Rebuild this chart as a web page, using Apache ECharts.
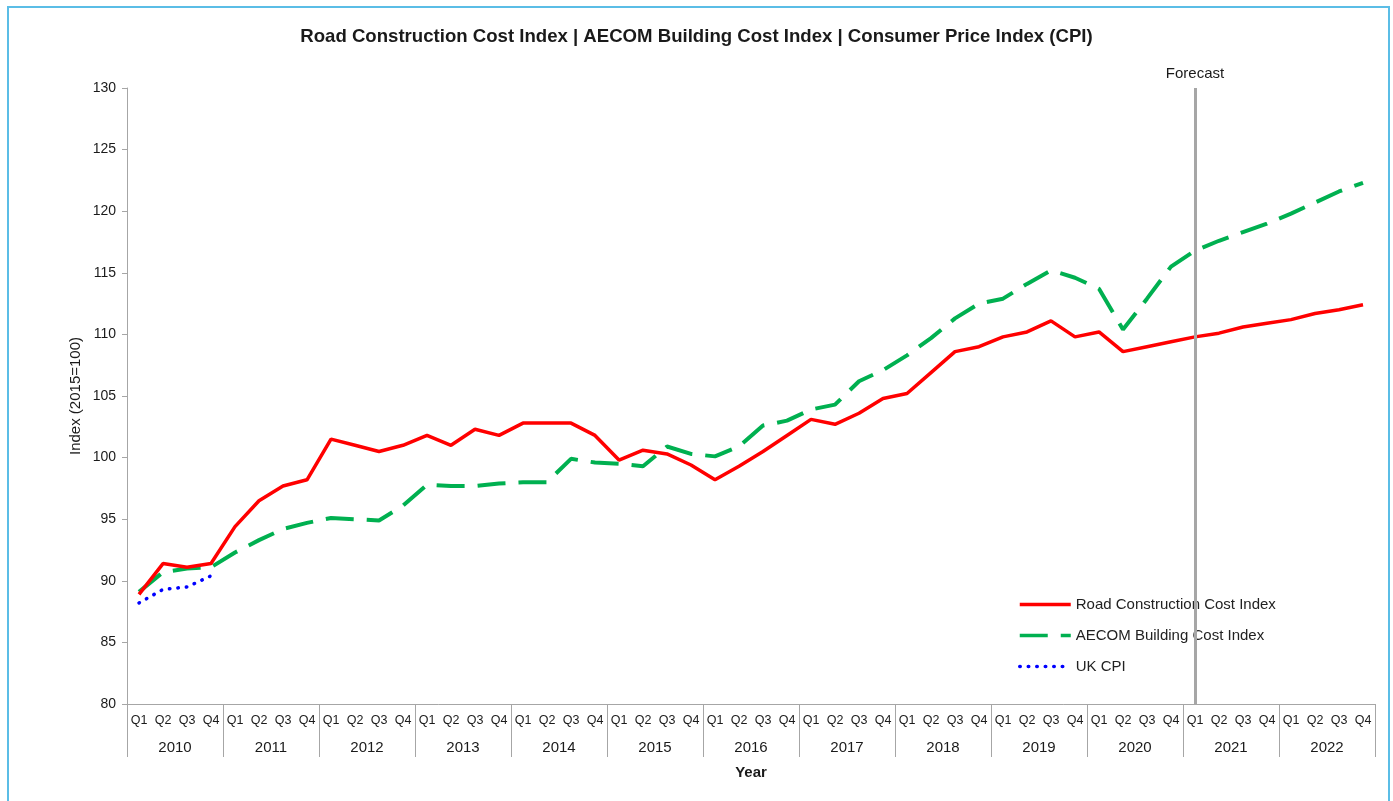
<!DOCTYPE html>
<html>
<head>
<meta charset="utf-8">
<title>Cost indices</title>
<script src="https://cdn.jsdelivr.net/npm/echarts@6/dist/echarts.min.js"></script>
<style>
  html, body { margin: 0; padding: 0; background: #fff; }
  #chart { width: 1393px; height: 801px; }
</style>
</head>
<body>
<div id="chart"></div>
<script>
// data
const years = ['2010','2011','2012','2013','2014','2015','2016','2017','2018','2019','2020','2021','2022'];
const quarters = ['Q1','Q2','Q3','Q4'];

const roadIndex = [
  88.9, 91.4, 91.1, 91.4,
  94.4, 96.5, 97.7, 98.2,
  101.5, 101.0, 100.5, 101.0,
  101.8, 101.0, 102.3, 101.8,
  102.8, 102.8, 102.8, 101.8,
  99.8, 100.6, 100.3, 99.4,
  98.2, 99.3, 100.5, 101.8,
  103.1, 102.7, 103.6, 104.8,
  105.2, 106.9, 108.6, 109.0,
  109.8, 110.2, 111.1, 109.8,
  110.2, 108.6, 109.0, 109.4,
  109.8, 110.1, 110.6, 110.9,
  111.2, 111.7, 112.0, 112.4
];

const aecomIndex = [
  89.1, 90.7, 91.0, 91.1,
  92.3, 93.3, 94.2, 94.7,
  95.1, 95.0, 94.9, 96.1,
  97.8, 97.7, 97.7, 97.9,
  98.0, 98.0, 99.9, 99.6,
  99.5, 99.3, 100.9, 100.3,
  100.1, 100.9, 102.6, 103.0,
  103.9, 104.3, 106.2, 107.1,
  108.3, 109.7, 111.3, 112.5,
  112.9, 114.1, 115.2, 114.6,
  113.7, 110.4, 112.9, 115.5,
  116.8, 117.6, 118.3, 119.0,
  119.8, 120.7, 121.6, 122.3
];

const ukCpi = [88.2, 89.3, 89.5, 90.4];

const forecastStart = 'Q1 2021';

const yTicks = {min: 80, max: 130, step: 5};

const font = 'Liberation Sans, Arial, sans-serif';
const axisGrey = '#a6a6a6';
const textDark = '#1a1a1a';

const categories = [];
years.forEach(y => quarters.forEach(q => categories.push(q + ' ' + y)));

const chart = echarts.init(document.getElementById('chart'));

chart.setOption({
  animation: false,
  textStyle: {fontFamily: font},
  title: {
    text: 'Road Construction Cost Index | AECOM Building Cost Index | Consumer Price Index (CPI)',
    left: 'center',
    top: 22,
    textStyle: {fontFamily: font, fontSize: 18.6, fontWeight: 'bold', color: textDark}
  },
  graphic: [{
    type: 'rect',
    shape: {x: 8, y: 7, width: 1381, height: 800},
    style: {fill: 'none', stroke: '#5bbde6', lineWidth: 2},
    silent: true
  }],
  legend: {
    orient: 'vertical',
    left: 1013,
    top: 592,
    itemWidth: 51,
    itemHeight: 14,
    itemGap: 16,
    itemStyle: {opacity: 0},
    lineStyle: {width: 3.5},
    textStyle: {fontFamily: font, fontSize: 15, color: '#222'},
    data: ['Road Construction Cost Index', 'AECOM Building Cost Index', 'UK CPI']
  },
  grid: {left: 127, right: 18, top: 88, bottom: 97, containLabel: false},
  xAxis: [{
    type: 'category',
    data: categories,
    boundaryGap: true,
    name: 'Year',
    nameLocation: 'middle',
    nameGap: 61,
    nameTextStyle: {fontFamily: font, fontSize: 15, fontWeight: 'bold', color: textDark},
    axisLine: {show: true, lineStyle: {color: axisGrey, width: 1}},
    axisTick: {show: false},
    axisLabel: {
      interval: 0,
      margin: 10,
      fontFamily: font,
      fontSize: 12.5,
      color: textDark,
      formatter: v => v.split(' ')[0]
    },
    splitLine: {show: false}
  }, {
    type: 'category',
    data: years,
    position: 'bottom',
    boundaryGap: true,
    axisLine: {show: false},
    axisTick: {show: true, length: 53, lineStyle: {color: axisGrey, width: 1}},
    axisLabel: {interval: 0, margin: 36, fontFamily: font, fontSize: 15, color: textDark},
    splitLine: {show: false}
  }],
  yAxis: {
    type: 'value',
    min: yTicks.min,
    max: yTicks.max,
    interval: yTicks.step,
    name: 'Index (2015=100)',
    nameLocation: 'middle',
    nameGap: 44,
    nameMoveOverlap: false,
    nameTextStyle: {fontFamily: font, fontSize: 15, color: textDark},
    axisLine: {show: true, lineStyle: {color: axisGrey, width: 1}},
    axisTick: {show: true, length: 5, lineStyle: {color: axisGrey}},
    axisLabel: {margin: 11, fontFamily: font, fontSize: 14, color: textDark},
    splitLine: {show: false}
  },
  series: [{
    name: 'Road Construction Cost Index',
    type: 'line',
    data: roadIndex,
    symbol: 'none',
    z: 4,
    lineStyle: {color: '#ff0000', width: 3.5},
    itemStyle: {color: '#ff0000'},
    markLine: {
      silent: true,
      symbol: 'none',
      lineStyle: {color: '#a6a6a6', width: 3, type: 'solid'},
      label: {
        show: true,
        position: 'end',
        distance: 7,
        formatter: 'Forecast',
        fontFamily: font,
        fontSize: 15,
        color: textDark
      },
      data: [{xAxis: forecastStart}]
    }
  }, {
    name: 'AECOM Building Cost Index',
    type: 'line',
    data: aecomIndex,
    symbol: 'none',
    z: 3,
    lineStyle: {color: '#00b050', width: 4, type: [28, 13]},
    itemStyle: {color: '#00b050'}
  }, {
    name: 'UK CPI',
    type: 'line',
    data: ukCpi,
    symbol: 'none',
    z: 2,
    lineStyle: {color: '#0000ff', width: 3.5, type: [0.5, 8], cap: 'round'},
    itemStyle: {color: '#0000ff'}
  }]
});
</script>
</body>
</html>
